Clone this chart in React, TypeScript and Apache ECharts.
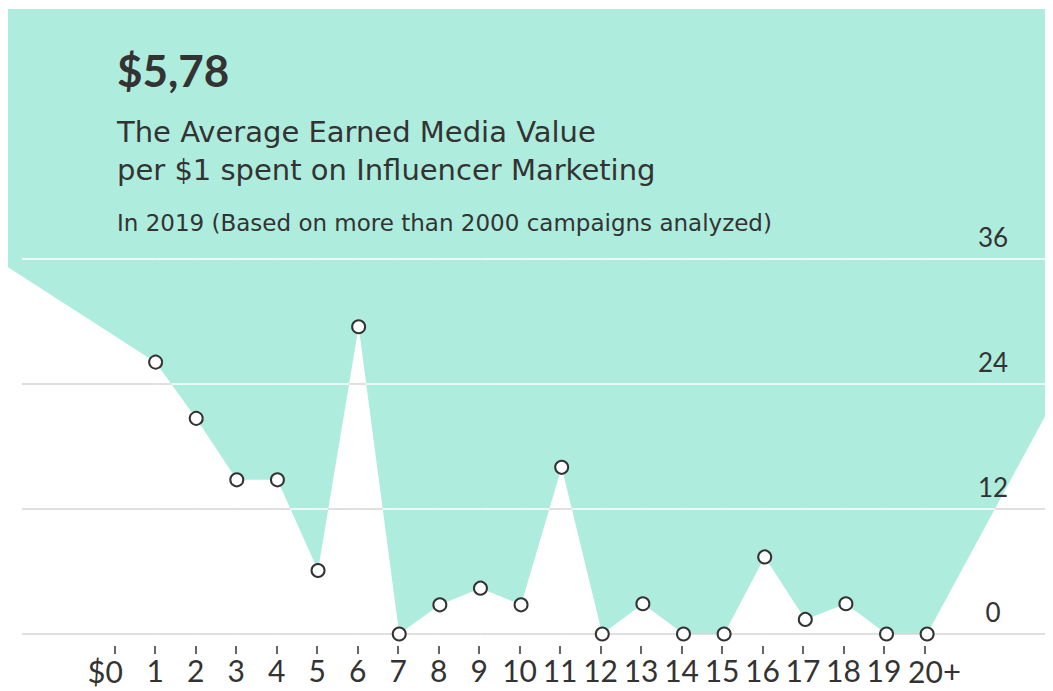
import React, { useEffect, useRef } from "react";
import * as echarts from "echarts";

// ---- data ----
const tickValues = [0, 1, 2, 3, 4, 5, 6, 7, 8, 9, 10, 11, 12, 13, 14, 15, 16, 17, 18, 19, 20];
const tickLabels = ["$0", "1", "2", "3", "4", "5", "6", "7", "8", "9", "10", "11", "12", "13", "14", "15", "16", "17", "18", "19", "20+"];
const pointX = [1, 2, 3, 4, 5, 6, 7, 8, 9, 10, 11, 12, 13, 14, 15, 16, 17, 18, 19, 20];
const pointY = [26.1, 20.7, 14.8, 14.8, 6.1, 29.5, 0, 2.8, 4.4, 2.8, 16.0, 0, 2.9, 0, 0, 7.4, 1.4, 2.9, 0, 0];
// the curve continues off both edges of the picture
const edgeX = [-2.635, 23.1];
const edgeY = [35.2, 22.3];
const gridValues = [0, 12, 24, 36];
const gridLineRange = [-2.291, 22.906];

const headline = "$5,78";
const titleLines = ["The Average Earned Media Value", "per $1 spent on Influencer Marketing"];
const subtitle = "In 2019 (Based on more than 2000 campaigns analyzed)";

const MINT = "#aeecdd";
const INK = "#333333";
const GRID_GRAY = "#d6d6d6";
const FONT = "Lato, 'Noto Sans', sans-serif";
const TITLE_FONT = "'DejaVu Sans', 'Noto Sans', sans-serif";

const lineData: number[][] = [
  [edgeX[0], edgeY[0]],
  ...pointX.map((x, i) => [x, pointY[i]]),
  [edgeX[1], edgeY[1]],
];

function labelFor(v: number) {
  const i = tickValues.indexOf(v);
  if (i < 0) return "";
  const s = tickLabels[i];
  if (s.startsWith("$")) return "{d|$}{z|" + s.slice(1) + "}";
  if (s.endsWith("+")) return "{y|" + s.slice(0, -1) + "}{p|+}";
  return s;
}

export default function App() {
  const ref = useRef<HTMLDivElement>(null);
  useEffect(() => {
    if (!ref.current) return;
    const chart = echarts.init(ref.current, undefined, { renderer: "svg" });
    const option: any = {
      animation: false,
      backgroundColor: "#ffffff",
      grid: [
        { left: 0, right: 0, top: 1, bottom: 57, containLabel: false },
        { left: 0, right: 0, top: 1, bottom: 45, containLabel: false },
      ],
      xAxis: [
        {
          gridIndex: 0,
          type: "value",
          min: edgeX[0],
          max: edgeX[1],
          axisLine: { show: false },
          axisTick: { show: false },
          axisLabel: { show: false },
          splitLine: { show: false },
        },
        {
          gridIndex: 1,
          type: "value",
          min: edgeX[0],
          max: edgeX[1],
          axisLine: { show: false },
          splitLine: { show: false },
          axisTick: {
            show: true,
            customValues: tickValues,
            length: 8,
            lineStyle: { color: INK, width: 1.5 },
          },
          axisLabel: {
            show: true,
            // an empty label at the axis end keeps "19" and "20+" both visible
            customValues: [...tickValues, edgeX[1]],
            showMinLabel: true,
            showMaxLabel: true,
            hideOverlap: false,
            margin: 9,
            color: INK,
            fontFamily: FONT,
            fontSize: 30,
            formatter: labelFor,
            rich: {
              d: { fontSize: 31, fontFamily: FONT, color: INK },
              z: { fontSize: 30, fontFamily: FONT, color: INK, padding: [0, 19, 0, 0] },
              y: { fontSize: 30, fontFamily: FONT, color: INK, padding: [0, 0, 0, 20] },
              p: { fontSize: 31, fontFamily: FONT, color: INK },
            },
          },
        },
      ],
      yAxis: [
        {
          gridIndex: 0,
          type: "value",
          position: "right",
          min: 0,
          max: 60,
          interval: 12,
          z: 10,
          axisLine: { show: false },
          axisTick: { show: false },
          splitLine: { show: false },
          axisLabel: {
            inside: true,
            margin: 60,
            align: "center",
            verticalAlign: "bottom",
            padding: [0, 0, 9, 0],
            color: INK,
            fontFamily: FONT,
            fontSize: 26,
            formatter: (v: number) => (gridValues.indexOf(v) >= 0 ? String(v) : ""),
          },
        },
        {
          gridIndex: 1,
          type: "value",
          min: 0,
          max: 60,
          show: false,
        },
      ],
      graphic: {
        elements: [
          {
            type: "text",
            z: 100,
            left: 109,
            top: 40,
            style: { text: headline, fill: INK, fontSize: 44, fontWeight: "bold", fontFamily: FONT },
          },
          {
            type: "text",
            z: 100,
            left: 109,
            top: 109,
            style: { text: titleLines[0], fill: INK, fontSize: 29, fontFamily: TITLE_FONT },
          },
          {
            type: "text",
            z: 100,
            left: 109,
            top: 147,
            style: { text: titleLines[1], fill: INK, fontSize: 29, fontFamily: TITLE_FONT },
          },
          {
            type: "text",
            z: 100,
            left: 109,
            top: 203,
            style: { text: subtitle, fill: INK, fontSize: 23, fontFamily: TITLE_FONT },
          },
        ],
      },
      series: [
        {
          type: "line",
          xAxisIndex: 0,
          yAxisIndex: 0,
          data: lineData,
          showSymbol: false,
          symbol: "none",
          lineStyle: { width: 0, opacity: 0 },
          areaStyle: { color: MINT, opacity: 1, origin: "end" },
          z: 2,
          silent: true,
        },
        {
          type: "custom",
          xAxisIndex: 0,
          yAxisIndex: 0,
          data: gridValues.map((v) => [0, v]),
          clip: false,
          z: 3,
          silent: true,
          renderItem: (params: any, api: any) => {
            const v = api.value(1);
            const children: any[] = [];
            const push = (a: number, b: number, color: string) => {
              a = Math.max(a, gridLineRange[0]);
              b = Math.min(b, gridLineRange[1]);
              if (b <= a) return;
              const p0 = api.coord([a, v]);
              const p1 = api.coord([b, v]);
              children.push({
                type: "line",
                shape: { x1: p0[0], y1: p0[1], x2: p1[0], y2: p1[1] },
                style: { stroke: color, lineWidth: 1.5 },
              });
            };
            for (let i = 0; i < lineData.length - 1; i++) {
              const [x0, y0] = lineData[i];
              const [x1, y1] = lineData[i + 1];
              const m0 = y0 < v;
              const m1 = y1 < v;
              if (m0 === m1) {
                push(x0, x1, m0 ? "#ffffff" : GRID_GRAY);
              } else {
                const xc = x0 + ((v - y0) / (y1 - y0)) * (x1 - x0);
                push(x0, xc, m0 ? "#ffffff" : GRID_GRAY);
                push(xc, x1, m1 ? "#ffffff" : GRID_GRAY);
              }
            }
            return { type: "group", children };
          },
        },
        {
          type: "scatter",
          xAxisIndex: 0,
          yAxisIndex: 0,
          data: pointX.map((x, i) => [x, pointY[i]]),
          symbol: "circle",
          symbolSize: 13,
          clip: false,
          itemStyle: { color: "#ffffff", borderColor: INK, borderWidth: 2, opacity: 1 },
          z: 5,
          silent: true,
        },
      ],
    };
    chart.setOption(option);
    return () => chart.dispose();
  }, []);
  return <div ref={ref} style={{ width: 1045, height: 683 }} />;
}
